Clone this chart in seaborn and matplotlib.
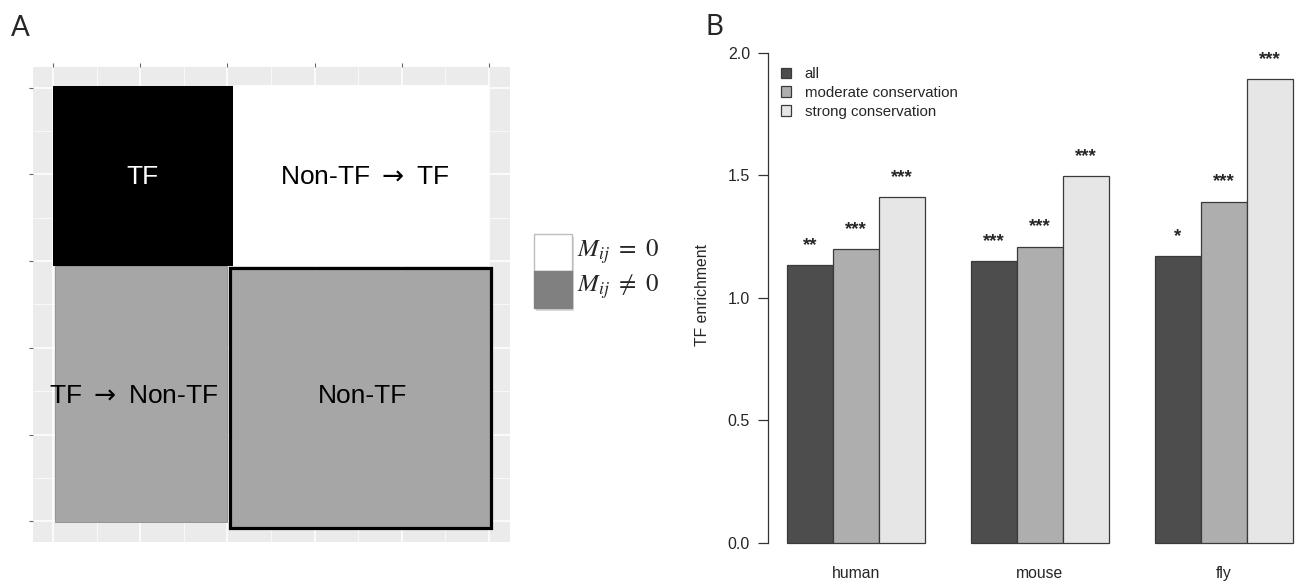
import numpy as np
import pandas as pd
import matplotlib
matplotlib.use("Agg")
import matplotlib.pyplot as plt
from matplotlib.patches import Rectangle
from matplotlib.ticker import MultipleLocator
import seaborn as sns

# ---------------- data ----------------
species = ["human", "mouse", "fly"]
groups = ["all", "moderate conservation", "strong conservation"]
enrich_all = [1.134, 1.150, 1.169]
enrich_moderate = [1.197, 1.209, 1.392]
enrich_strong = [1.412, 1.496, 1.893]
stars_all = ["**", "***", "*"]
stars_moderate = ["***", "***", "***"]
stars_strong = ["***", "***", "***"]
y_ticks = [0.0, 0.5, 1.0, 1.5, 2.0]
y_label = "TF enrichment"

block_labels = ["TF", r"Non-TF $\rightarrow$ TF", r"TF $\rightarrow$ Non-TF", "Non-TF"]
n_tf = 2
n_total = 5
legend_a_labels = [r"$M_{ij}\ =\ 0$", r"$M_{ij}\ \neq\ 0$"]

bar_colors = ["#4D4D4D", "#AEAEAE", "#E6E6E6"]

# ---------------- style ----------------
sns.set_theme(style="white")
plt.rcParams['font.family'] = ['Liberation Sans', 'DejaVu Sans']
plt.rcParams['mathtext.fontset'] = 'stix'

W, H = 1298, 582
fig = plt.figure(figsize=(W / 100, H / 100), dpi=100)


def ax_rect(x0, y0, x1, y1):
    return [x0 / W, 1 - y1 / H, (x1 - x0) / W, (y1 - y0) / H]


# ---------------- panel A ----------------
axA = fig.add_axes(ax_rect(33, 67, 510, 542))
axA.set_facecolor("#EBEBEB")
axA.set_xlim(-0.23, n_total + 0.24)
axA.set_ylim(n_total + 0.24, -0.24)
axA.xaxis.set_major_locator(MultipleLocator(1))
axA.yaxis.set_major_locator(MultipleLocator(1))
axA.xaxis.set_minor_locator(MultipleLocator(0.5))
axA.yaxis.set_minor_locator(MultipleLocator(0.5))
axA.grid(which='major', color='white', lw=1.1)
axA.grid(which='minor', color='white', lw=0.5)
axA.set_axisbelow(True)
for s in axA.spines.values():
    s.set_visible(False)
axA.xaxis.tick_top()
axA.tick_params(which='major', length=3, width=0.8, color='#666666',
                labeltop=False, labelleft=False, labelbottom=False,
                top=True, left=True, bottom=False, right=False)
axA.tick_params(which='minor', length=0)

# blocks
axA.add_patch(Rectangle((0, -0.02), n_tf + 0.064, n_tf + 0.075,
                        facecolor="black", edgecolor="none", zorder=2))
axA.add_patch(Rectangle((n_tf + 0.064, -0.03), n_total - n_tf - 0.064, n_tf + 0.085,
                        facecolor="white", edgecolor="none", zorder=2))
axA.add_patch(Rectangle((0.02, n_tf + 0.055), n_tf - 0.025, n_total - n_tf - 0.045,
                        facecolor="#A6A6A6", edgecolor="#8A8A8A", lw=0.6, zorder=2))
axA.add_patch(Rectangle((n_tf + 0.03, n_tf + 0.08), n_total - n_tf - 0.01, n_total - n_tf,
                        facecolor="#A6A6A6", edgecolor="black", lw=2.3, zorder=3))

txt_kw = dict(ha='center', va='center', fontsize=19, zorder=5,
              math_fontfamily='dejavusans')
axA.text(n_tf / 2 + 0.02, n_tf / 2 + 0.03, block_labels[0], color='white', **txt_kw)
axA.text((n_tf + n_total) / 2 + 0.07, n_tf / 2 + 0.03, block_labels[1], color='black', **txt_kw)
axA.text(n_tf / 2 - 0.07, (n_tf + n_total) / 2 + 0.05, block_labels[2], color='black', **txt_kw)
axA.text((n_tf + n_total) / 2 + 0.05, (n_tf + n_total) / 2 + 0.05, block_labels[3], color='black', **txt_kw)


# legend for A (figure-level)
def fig_rect(x0, y0, w, h, **kw):
    fig.add_artist(Rectangle((x0 / W, 1 - (y0 + h) / H), w / W, h / H,
                             transform=fig.transFigure, **kw))


fig_rect(536, 237, 38, 74, facecolor="#D9D9D9", edgecolor="none")
fig_rect(534, 234, 38, 37, facecolor="white", edgecolor="#BDBDBD", lw=1.0)
fig_rect(534, 271, 38, 37, facecolor="#808080", edgecolor="#808080", lw=1.0)
fig.text(577 / W, 1 - 252 / H, legend_a_labels[0], fontsize=18, va='center', ha='left')
fig.text(577 / W, 1 - 287 / H, legend_a_labels[1], fontsize=18, va='center', ha='left')

# ---------------- panel B ----------------
df = pd.DataFrame({
    "species": species * 3,
    "group": [groups[0]] * 3 + [groups[1]] * 3 + [groups[2]] * 3,
    "enrichment": enrich_all + enrich_moderate + enrich_strong,
})

axB = fig.add_axes(ax_rect(768, 30, 1298, 560))
sns.barplot(data=df, x="species", y="enrichment", hue="group",
            order=species, hue_order=groups, palette=bar_colors,
            width=0.75, saturation=1, errorbar=None,
            edgecolor="#3A3A3A", linewidth=0.9, ax=axB)
axB.set_xlim(-0.478, 2.402)
axB.set_ylim(-0.0694, 2.092)
axB.set_yticks(y_ticks)
axB.set_yticklabels([f"{t:.1f}" for t in y_ticks])
for side in ["top", "right", "bottom"]:
    axB.spines[side].set_visible(False)
axB.spines["left"].set_bounds(0, 2)
axB.spines["left"].set_color("#333333")
axB.spines["left"].set_linewidth(0.9)
axB.tick_params(axis='y', length=7, width=0.9, color='#333333', pad=6,
                labelsize=11.5, left=True)
axB.tick_params(axis='x', length=0, pad=4, labelsize=11.3)
axB.set_xlabel("")
axB.set_ylabel(y_label, fontsize=11.3)
axB.yaxis.set_label_coords(-0.11, 0.5)

for cont, st in zip(axB.containers, [stars_all, stars_moderate, stars_strong]):
    axB.bar_label(cont, labels=st, padding=8, fontsize=13.5, fontweight='bold')

handles, labels = axB.get_legend_handles_labels()
axB.legend(handles, labels, loc='upper left', bbox_to_anchor=(0.024, 0.93),
           frameon=False, fontsize=10.8, handlelength=0.7, handleheight=0.7,
           handletextpad=0.9, labelspacing=0.32, borderpad=0, borderaxespad=0)

# panel letters
fig.text(11 / W, 1 - 36 / H, "A", fontsize=20, family=["Lato", "DejaVu Sans"])
fig.text(705 / W, 1 - 35 / H, "B", fontsize=20, family=["Lato", "DejaVu Sans"])

fig.savefig("out.png", dpi=100)
